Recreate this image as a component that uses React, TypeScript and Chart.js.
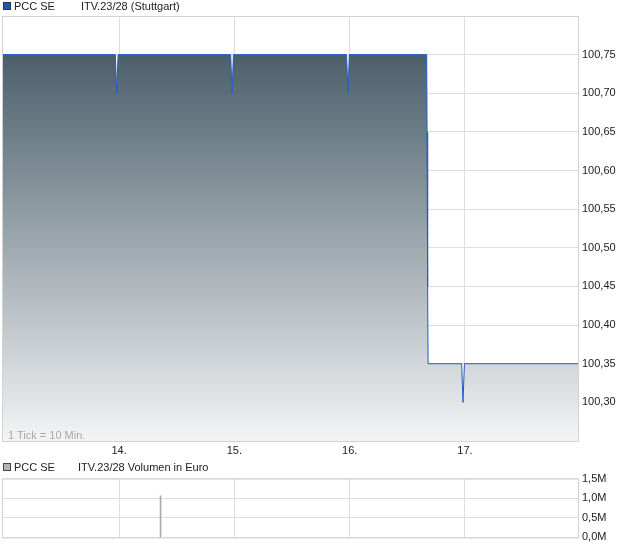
import React, { useEffect, useRef } from "react";
import { Chart, registerables } from "chart.js";

Chart.register(...registerables);

// ---- data ----
const priceDays = [12.985, 13.968, 13.98, 13.992, 14.968, 14.98, 14.992, 15.973, 15.985, 15.997, 16.668, 16.671, 16.676, 16.68, 16.971, 16.983, 16.995, 17.98];
const priceValues = [100.75, 100.75, 100.7, 100.75, 100.75, 100.7, 100.75, 100.75, 100.7, 100.75, 100.75, 100.65, 100.45, 100.35, 100.35, 100.3, 100.35, 100.35];
const dayTicks = [14, 15, 16, 17];
const priceTicks = [100.3, 100.35, 100.4, 100.45, 100.5, 100.55, 100.6, 100.65, 100.7, 100.75];
const volumeDays = [14.36];
const volumeValues = [1.06];
const volumeTicks = [0, 0.5, 1.0, 1.5];

const FONT = '"Liberation Sans", Arial, sans-serif';
const GRID = "#dddddd";

const borderPlugin = {
  id: "frame",
  afterDatasetsDraw(chart: any) {
    const a = chart.chartArea;
    const c = chart.ctx;
    c.save();
    c.strokeStyle = "#d2d2d2";
    c.lineWidth = 1;
    c.strokeRect(a.left + 0.5, a.top + 0.5, a.right - a.left, a.bottom - a.top);
    c.restore();
  },
};

export default function App() {
  const topRef = useRef<HTMLCanvasElement>(null);
  const botRef = useRef<HTMLCanvasElement>(null);

  useEffect(() => {
    Chart.defaults.font.family = FONT;
    Chart.defaults.font.size = 11;
    Chart.defaults.color = "#222";

    const top = new Chart(topRef.current!, {
      type: "line",
      data: {
        datasets: [
          {
            data: priceDays.map((d, i) => ({ x: d, y: priceValues[i] })),
            borderColor: "#1f5cc4",
            borderWidth: 1,
            pointRadius: 0,
            tension: 0,
            fill: "start",
            backgroundColor: (ctx: any) => {
              const chart = ctx.chart;
              const a = chart.chartArea;
              if (!a) return "#8899a0";
              const y0 = chart.scales.y.getPixelForValue(100.75);
              const g = chart.ctx.createLinearGradient(0, y0, 0, a.bottom);
              g.addColorStop(0, "#4b5f6b");
              g.addColorStop(1, "#f3f4f5");
              return g;
            },
          },
        ],
      },
      options: {
        animation: false,
        responsive: false,
        layout: { padding: { top: 16, left: 2, right: 0, bottom: 0 } },
        plugins: { legend: { display: false }, tooltip: { enabled: false } },
        scales: {
          x: {
            type: "linear",
            min: 12.985,
            max: 17.98,
            afterBuildTicks: (s: any) => {
              s.ticks = dayTicks.map((v) => ({ value: v }));
            },
            afterFit: (s: any) => {
              s.height = 21;
            },
            ticks: {
              padding: 3,
              autoSkip: false,
              maxRotation: 0,
              callback: (v: any) => `${v}.`,
            },
            grid: { color: GRID, drawTicks: false },
            border: { display: false },
          },
          y: {
            position: "right",
            min: 100.25,
            max: 100.8,
            afterBuildTicks: (s: any) => {
              s.ticks = priceTicks.map((v) => ({ value: v }));
            },
            afterFit: (s: any) => {
              s.width = 42;
            },
            ticks: {
              padding: 4,
              callback: (v: any) => Number(v).toFixed(2).replace(".", ","),
            },
            grid: { color: GRID, drawTicks: false },
            border: { display: false },
          },
        },
      } as any,
      plugins: [borderPlugin],
    });

    const bot = new Chart(botRef.current!, {
      type: "bar",
      data: {
        datasets: [
          {
            data: volumeDays.map((d, i) => ({ x: d, y: volumeValues[i] })),
            backgroundColor: "#aaaaaa",
            barThickness: 1,
          },
        ],
      },
      options: {
        animation: false,
        responsive: false,
        layout: { padding: { top: 7, left: 2, right: 0, bottom: 0 } },
        plugins: { legend: { display: false }, tooltip: { enabled: false } },
        scales: {
          x: {
            type: "linear",
            min: 12.985,
            max: 17.98,
            offset: false,
            afterBuildTicks: (s: any) => {
              s.ticks = dayTicks.map((v) => ({ value: v }));
            },
            afterFit: (s: any) => {
              s.height = 9;
            },
            ticks: { display: false },
            grid: { color: GRID, drawTicks: false, offset: false },
            border: { display: false },
          },
          y: {
            position: "right",
            min: 0,
            max: 1.5,
            afterBuildTicks: (s: any) => {
              s.ticks = volumeTicks.map((v) => ({ value: v }));
            },
            afterFit: (s: any) => {
              s.width = 42;
            },
            ticks: {
              padding: 4,
              callback: (v: any) => Number(v).toFixed(1).replace(".", ",") + "M",
            },
            grid: { color: GRID, drawTicks: false },
            border: { display: false },
          },
        },
      } as any,
      plugins: [borderPlugin],
    });

    return () => {
      top.destroy();
      bot.destroy();
    };
  }, []);

  const legendText: React.CSSProperties = {
    position: "absolute",
    font: `11px ${FONT}`,
    color: "#222",
    whiteSpace: "nowrap",
    lineHeight: "12px",
  };

  return (
    <div style={{ position: "absolute", left: 0, top: 0, width: 620, height: 546, background: "#fff", overflow: "hidden" }}>
      <canvas ref={topRef} width={620} height={462} style={{ position: "absolute", left: 0, top: 0, width: 620, height: 462 }} />
      <canvas ref={botRef} width={620} height={80} style={{ position: "absolute", left: 0, top: 468, width: 620, height: 80 }} />

      <div style={{ position: "absolute", left: 3, top: 2, width: 6, height: 6, background: "#1f55c0", border: "1px solid #333" }} />
      <div style={{ ...legendText, left: 14, top: 0 }}>PCC SE</div>
      <div style={{ ...legendText, left: 81, top: 0 }}>ITV.23/28 (Stuttgart)</div>

      <div style={{ ...legendText, left: 8, top: 429, color: "#a8a8a8" }}>1 Tick = 10 Min.</div>

      <div style={{ position: "absolute", left: 3, top: 463, width: 6, height: 6, background: "#b4b4b4", border: "1px solid #444" }} />
      <div style={{ ...legendText, left: 14, top: 461 }}>PCC SE</div>
      <div style={{ ...legendText, left: 78, top: 461 }}>ITV.23/28 Volumen in Euro</div>
    </div>
  );
}
